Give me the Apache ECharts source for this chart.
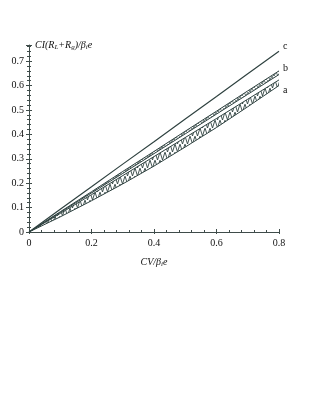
<!DOCTYPE html>
<html><head><meta charset="utf-8">
<script src="https://cdn.jsdelivr.net/npm/echarts@6/dist/echarts.min.js"></script>
<style>html,body{margin:0;padding:0;background:#fff}#c{width:316px;height:409px}</style>
</head><body><div id="c"></div>
<script>
// ---- data ----
const xs     = [0, 0.1, 0.2, 0.3, 0.4, 0.5, 0.6, 0.7, 0.8];
const cVals  = [0, 0.093, 0.185, 0.278, 0.370, 0.463, 0.555, 0.648, 0.740];
const bUpper = [0, 0.083, 0.165, 0.248, 0.330, 0.413, 0.495, 0.578, 0.660];
const bLower = [0, 0.080, 0.160, 0.240, 0.321, 0.402, 0.483, 0.564, 0.645];
const aUpper = [0, 0.076, 0.153, 0.231, 0.309, 0.387, 0.465, 0.544, 0.623];
const aLower = [0, 0.062, 0.128, 0.197, 0.270, 0.348, 0.428, 0.513, 0.600];
const curveLabels = ['a', 'b', 'c'];
const xTickInterval = 0.2;
const yTickInterval = 0.1;

const LINE = '#2f4240';
const AX = '#3f4c4a';
const TXT = '#111';
const SERIF = "'Liberation Serif','DejaVu Serif',serif";

function pairs(ys){ return xs.map((x,i)=>[x, ys[i]]); }
function hatch(w,h,lw,draw){
  const cv=document.createElement('canvas'); cv.width=w; cv.height=h;
  const g=cv.getContext('2d'); g.strokeStyle=LINE; g.lineWidth=lw;
  g.beginPath(); draw(g,w,h); g.stroke();
  return {image:cv, repeat:'repeat'};
}
const hatchA = hatch(5,8,0.9,(g,w,h)=>{ g.moveTo(0,0); g.lineTo(w/2,h); g.lineTo(w,0); });
const hatchB = hatch(4,4,0.8,(g,w,h)=>{ g.moveTo(0,0); g.lineTo(w/2,h); g.lineTo(w,0); });

function bandSeries(upper, lower, pattern){
  return {
    type:'custom', data:[[0,0]], silent:true, z:1,
    renderItem:function(params, api){
      const pts=[];
      for(let i=0;i<xs.length;i++) pts.push(api.coord([xs[i], upper[i]]));
      for(let i=xs.length-1;i>=0;i--) pts.push(api.coord([xs[i], lower[i]]));
      return {type:'polygon', shape:{points:pts}, style:{fill:pattern, stroke:null}};
    }
  };
}
function edge(name, ys, label, offset, width){
  const s={type:'line', name:name, data:pairs(ys), symbol:'none', z:3, lineStyle:{color:LINE, width:width||1}};
  if(label) s.endLabel={show:true, formatter:label, fontFamily:SERIF, fontSize:10, color:TXT, offset:offset, distance:4};
  return s;
}

const subRich = {
  s: {fontSize:7, fontStyle:'italic', fontFamily:SERIF, color:TXT, padding:[5,0,0,0], verticalAlign:'bottom'}
};

const chart = echarts.init(document.getElementById('c'), null, {renderer:'canvas'});
const tickStyle = {color:AX, width:1};
chart.setOption({
  animation:false,
  grid:{left:29, right:37, top:45, bottom:177, containLabel:false},
  xAxis:[{
    type:'value', min:0, max:0.8, interval:xTickInterval, position:'bottom',
    axisLine:{show:true, lineStyle:{color:AX, width:1}},
    axisTick:{show:true, inside:true, length:3, lineStyle:tickStyle},
    minorTick:{show:true, splitNumber:5, length:2, lineStyle:tickStyle},
    splitLine:{show:false},
    axisLabel:{fontFamily:SERIF, fontSize:10, color:TXT, margin:6},
    name:'CV/β{s|i}e', nameLocation:'middle', nameGap:24,
    nameTextStyle:{fontFamily:SERIF, fontStyle:'italic', fontSize:10, color:TXT, rich:subRich}
  },{
    type:'value', min:0, max:0.8, interval:xTickInterval, position:'bottom',
    axisLine:{show:false}, axisLabel:{show:false}, splitLine:{show:false},
    axisTick:{show:true, inside:false, length:2, lineStyle:tickStyle},
    minorTick:{show:true, splitNumber:5, length:1, lineStyle:tickStyle}
  }],
  yAxis:[{
    type:'value', min:0, max:0.766, interval:yTickInterval, position:'left',
    axisLine:{show:true, lineStyle:{color:AX, width:1}},
    axisTick:{show:true, inside:true, length:3, lineStyle:tickStyle},
    minorTick:{show:true, splitNumber:5, length:2, lineStyle:tickStyle},
    splitLine:{show:false},
    axisLabel:{fontFamily:SERIF, fontSize:10, color:TXT, margin:5, showMaxLabel:false},
    name:'CI(R{s|L}+R{s|g})/β{s|i}e', nameLocation:'end', nameGap:0,
    nameTextStyle:{fontFamily:SERIF, fontStyle:'italic', fontSize:10, color:TXT, align:'left', verticalAlign:'middle', padding:[0,0,0,6], rich:subRich}
  },{
    type:'value', min:0, max:0.766, interval:yTickInterval, position:'left',
    axisLine:{show:false}, axisLabel:{show:false}, splitLine:{show:false},
    axisTick:{show:true, inside:false, length:3, lineStyle:tickStyle},
    minorTick:{show:true, splitNumber:5, length:2, lineStyle:tickStyle}
  }],
  series:[
    bandSeries(bUpper, bLower, hatchB),
    bandSeries(aUpper, aLower, hatchA),
    edge('c', cVals, curveLabels[2], [0,-5], 1.2),
    edge('bUpper', bUpper, curveLabels[1], [0,-3]),
    edge('bLower', bLower, null),
    edge('aUpper', aUpper, null),
    edge('aLower', aLower, curveLabels[0], [0,5])
  ]
});
</script></body></html>
